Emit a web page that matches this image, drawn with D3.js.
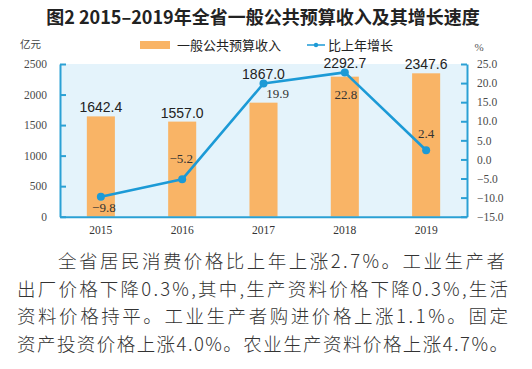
<!DOCTYPE html>
<html><head><meta charset="utf-8">
<script src="https://cdn.jsdelivr.net/npm/d3@7"></script>
<style>
html,body{margin:0;padding:0;background:#fff;}
svg{display:block;}
</style></head>
<body>
<svg id="chart" width="532" height="369"></svg>
<script>
// ---- data ----
const years = ["2015", "2016", "2017", "2018", "2019"];
const revenue = [1642.4, 1557.0, 1867.0, 2292.7, 2347.6];
const growth = [-9.8, -5.2, 19.9, 22.8, 2.4];
const leftTicks = [0, 500, 1000, 1500, 2000, 2500];
const rightTicks = [-15, -10, -5, 0, 5, 10, 15, 20, 25];
const titleText = "图2 2015–2019年全省一般公共预算收入及其增长速度";
const legendBar = "一般公共预算收入";
const legendLine = "比上年增长";
const leftUnit = "亿元";
const rightUnit = "%";
const paragraph = [
  "全省居民消费价格比上年上涨2.7%。工业生产者",
  "出厂价格下降0.3%,其中,生产资料价格下降0.3%,生活",
  "资料价格持平。工业生产者购进价格上涨1.1%。固定",
  "资产投资价格上涨4.0%。农业生产资料价格上涨4.7%。"
];
// label placement hints for growth labels (offsets in px)
const pctDx = [3, -1, 14, 1, 0];
const pctDy = [15, -16, 15, 27, -12];

// ---- style ----
const barColor = "#f9b466";
const lineColor = "#1c9ad6";
const axisColor = "#2ba0d4";
const bgColor = "#e4f3fb";
const serif = "'Liberation Serif','Times New Roman',serif";
const sans = "'Liberation Sans',Arial,sans-serif";
const cjk = "'Noto Sans CJK SC','Noto Sans',sans-serif";

const svg = d3.select("#chart");
const L = 60, R = 467, T = 64, B = 216.7;

const x = d3.scaleBand().domain(years).range([L, R]).paddingInner(0.655).paddingOuter(0.33);
const yL = d3.scaleLinear().domain([0, 2500]).range([B, T]);
const yR = d3.scaleLinear().domain([-15, 25]).range([B, T]);

// title
svg.append("text").attr("x", 263).attr("y", 24).attr("text-anchor", "middle")
  .attr("font-family", cjk).attr("font-weight", "bold").attr("font-size", 18)
  .attr("fill", "#222").text(titleText);

// background
svg.append("rect").attr("x", L).attr("y", T).attr("width", R - L).attr("height", B - T).attr("fill", bgColor);

// bars
svg.append("g").selectAll("rect").data(revenue).join("rect")
  .attr("x", (d, i) => x(years[i])).attr("width", x.bandwidth())
  .attr("y", d => yL(d)).attr("height", d => B - yL(d)).attr("fill", barColor);

// axes
const fmtL = d3.format("d");
const gL = svg.append("g").attr("transform", `translate(${L},0)`)
  .call(d3.axisLeft(yL).tickValues(leftTicks).tickFormat(fmtL).tickSizeInner(-6).tickSizeOuter(0).tickPadding(13));
const gR = svg.append("g").attr("transform", `translate(${R},0)`)
  .call(d3.axisRight(yR).tickValues(rightTicks).tickFormat(d3.format(".1f")).tickSizeInner(-6).tickSizeOuter(0).tickPadding(10));
const gB = svg.append("g").attr("transform", `translate(0,${B})`)
  .call(d3.axisBottom(x).tickSize(0).tickPadding(9));
[gL, gR, gB].forEach(g => {
  g.select(".domain").attr("stroke", axisColor).attr("stroke-width", 2);
  g.selectAll(".tick line").attr("stroke", axisColor).attr("stroke-width", 2);
  g.selectAll(".tick text").attr("font-family", serif).attr("font-size", 11.5).attr("fill", "#4a4a4a");
});
gB.selectAll(".tick text").attr("fill", "#333");

// line
const cx = (i) => x(years[i]) + x.bandwidth() / 2;
const line = d3.line().x((d, i) => cx(i)).y(d => yR(d));
svg.append("path").datum(growth).attr("d", line).attr("fill", "none")
  .attr("stroke", lineColor).attr("stroke-width", 2.6).attr("stroke-linejoin", "round");
svg.append("g").selectAll("circle").data(growth).join("circle")
  .attr("cx", (d, i) => cx(i)).attr("cy", d => yR(d)).attr("r", 4).attr("fill", lineColor);

// bar labels
svg.append("g").selectAll("text").data(revenue).join("text")
  .attr("x", (d, i) => cx(i))
  .attr("y", (d, i) => Math.min(yL(d), yR(growth[i])) - 4)
  .attr("text-anchor", "middle").attr("font-family", sans).attr("font-size", 14).attr("fill", "#222")
  .text(d => d3.format(".1f")(d));

// growth labels
svg.append("g").selectAll("text").data(growth).join("text")
  .attr("x", (d, i) => cx(i) + pctDx[i]).attr("y", (d, i) => yR(d) + pctDy[i])
  .attr("text-anchor", "middle").attr("font-family", serif).attr("font-size", 13).attr("fill", "#333")
  .text(d => d3.format(".1f")(d));

// units
svg.append("text").attr("x", 20).attr("y", 48).attr("font-family", cjk).attr("font-size", 10.5).attr("fill", "#444").text(leftUnit);
svg.append("text").attr("x", 479).attr("y", 51).attr("text-anchor", "middle").attr("font-family", serif).attr("font-size", 11).attr("fill", "#555").text(rightUnit);

// legend
svg.append("rect").attr("x", 140).attr("y", 41).attr("width", 30).attr("height", 8).attr("fill", barColor);
svg.append("text").attr("x", 177).attr("y", 50).attr("font-family", cjk).attr("font-size", 13).attr("fill", "#222").text(legendBar);
svg.append("line").attr("x1", 307).attr("x2", 325).attr("y1", 45).attr("y2", 45).attr("stroke", lineColor).attr("stroke-width", 1.5);
svg.append("circle").attr("cx", 316).attr("cy", 45).attr("r", 2.2).attr("fill", lineColor);
svg.append("text").attr("x", 328).attr("y", 50).attr("font-family", cjk).attr("font-size", 13).attr("fill", "#222").text(legendLine);

// paragraph
const paraX = [58, 17, 17, 17];
const paraW = [447, 491, 491, 491];
const paraY = [268, 296, 323, 351];
svg.append("g").selectAll("text").data(paragraph).join("text")
  .attr("x", (d, i) => paraX[i]).attr("y", (d, i) => paraY[i])
  .attr("textLength", (d, i) => paraW[i]).attr("lengthAdjust", "spacing")
  .attr("font-family", cjk).attr("font-size", 18.5).attr("font-weight", 300).attr("fill", "#333")
  .text(d => d);
</script>
</body></html>
